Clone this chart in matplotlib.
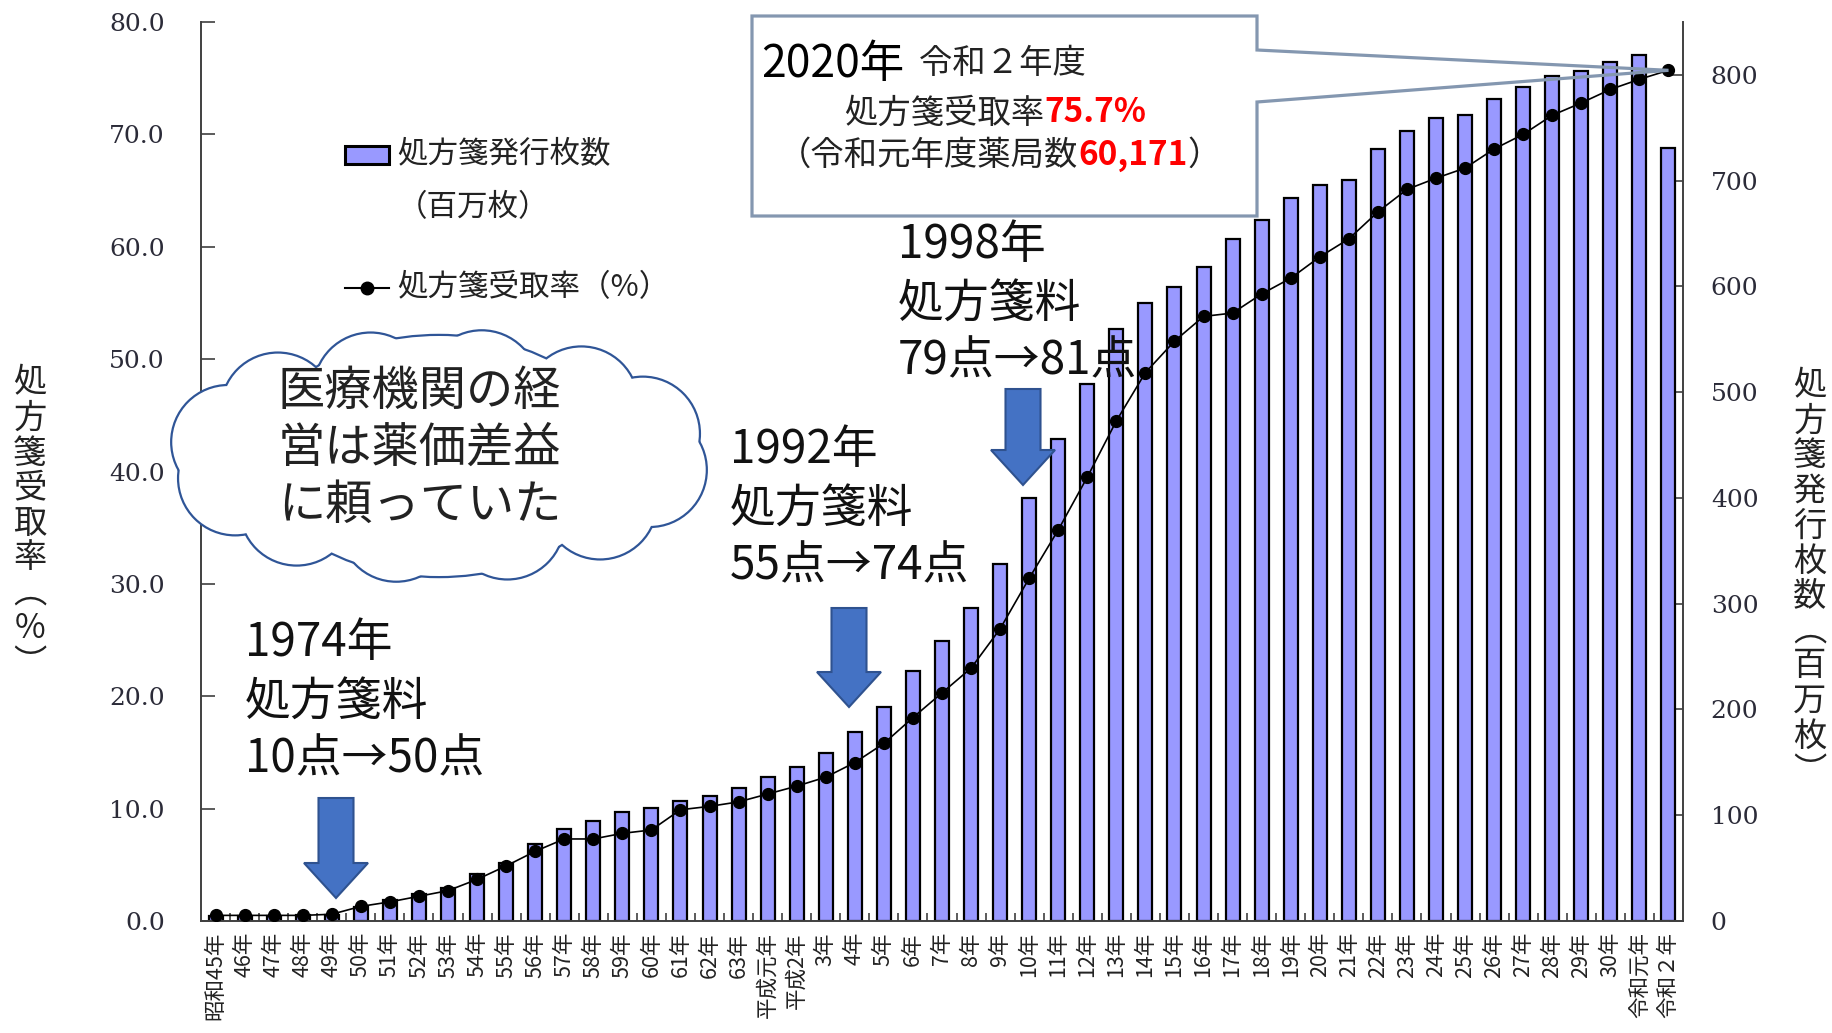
import matplotlib
matplotlib.use('Agg')
import matplotlib.pyplot as plt
import matplotlib.patches as mpatches
import matplotlib.transforms as mtransforms
from matplotlib.lines import Line2D
import numpy as np

plt.rcParams['font.family'] = ['Noto Sans CJK JP', 'DejaVu Sans']

# 年度ラベル (昭和45年 = 1970 ... 令和2年 = 2020)
years = ['昭和45年'] + ['%d年' % y for y in range(46, 64)] \
    + ['平成元年', '平成2年'] + ['%d年' % y for y in range(3, 31)] \
    + ['令和元年', '令和２年']

# 処方箋受取率 (%)
rate = [0.5, 0.5, 0.5, 0.5, 0.6, 1.3, 1.7, 2.2, 2.7, 3.7,
        4.9, 6.2, 7.3, 7.3, 7.8, 8.1, 9.9, 10.2, 10.6, 11.3,
        12.0, 12.8, 14.1, 15.8, 18.1, 20.3, 22.5, 26.0, 30.5, 34.8,
        39.5, 44.5, 48.8, 51.6, 53.8, 54.1, 55.8, 57.2, 59.1, 60.7,
        63.1, 65.1, 66.1, 67.0, 68.7, 70.0, 71.7, 72.8, 74.0, 74.9,
        75.7]

# 処方箋発行枚数 (百万枚)
sheets = [5, 5, 5, 6, 6, 13, 20, 26, 31, 44,
          55, 73, 87, 95, 103, 107, 113, 118, 126, 136,
          146, 159, 179, 202, 236, 265, 296, 338, 400, 456,
          508, 560, 584, 599, 618, 645, 663, 684, 696, 701,
          730, 747, 759, 762, 777, 789, 799, 804, 812, 819,
          731]

left_ticks = np.arange(0, 81, 10)
right_ticks = np.arange(0, 801, 100)

W, H = 1833, 1033
fig = plt.figure(figsize=(W / 100, H / 100), dpi=100)
# pixel coords measured from the top-left corner
px = mtransforms.Affine2D().scale(1 / 100, -1 / 100).translate(0, H / 100) + fig.dpi_scale_trans

ax = fig.add_axes([201 / W, 1 - 921 / H, (1683 - 201) / W, (921 - 22) / H])
ax2 = ax.twinx()

x = np.arange(len(years))
ax2.bar(x, sheets, width=0.48, color='#9999FF', edgecolor='black', linewidth=1.6, zorder=2)
ax.plot(x, rate, color='black', lw=1.2, marker='o', ms=8.5, zorder=3)
ax.set_zorder(ax2.get_zorder() + 1)
ax.patch.set_visible(False)

ax.set_xlim(-0.5, len(years) - 0.5)
ax.set_ylim(0, 80)
ax2.set_ylim(0, 850)

axis_col = '#404040'
tick_col = '#2b2b38'
ax.set_yticks(left_ticks)
ax.set_yticklabels(['%.1f' % v for v in left_ticks], fontfamily='DejaVu Serif', fontsize=18, color=tick_col)
ax2.set_yticks(right_ticks)
ax2.set_yticklabels(['%d' % v for v in right_ticks], fontfamily='DejaVu Serif', fontsize=18, color=tick_col)
ax.tick_params(axis='y', direction='in', length=10, width=1.2, color=axis_col, pad=26)
ax2.tick_params(axis='y', direction='in', length=10, width=1.2, color=axis_col, pad=20)

ax.set_xticks(x)
ax.set_xticklabels(years, rotation=90, fontsize=15.5, color='#222222')
ax.tick_params(axis='x', which='major', length=0, pad=8)
ax.set_xticks(np.arange(0.5, len(years) - 1, 1), minor=True)
ax.tick_params(axis='x', which='minor', direction='in', length=6, width=1.2, color=axis_col)

for s in ['top', 'right']:
    ax.spines[s].set_visible(False)
for s in ['top', 'left', 'bottom']:
    ax2.spines[s].set_visible(False)
for a, s in [(ax, 'left'), (ax, 'bottom'), (ax2, 'right')]:
    a.spines[s].set_color(axis_col)
    a.spines[s].set_linewidth(1.4)


def ptext(x0, y0, s, size, **kw):
    return fig.text(x0, y0, s, transform=px, fontsize=size, va='center', ha='left', zorder=8, **kw)


# vertical axis titles (one character per row)
def vtitle(xc, y0, chars, step=35):
    for i, ch in enumerate(chars):
        fig.text(xc, y0 + i * step, ch, transform=px, fontsize=24, ha='center', va='center', color='#222222')


vtitle(30, 383, list('処方箋受取率') + ['︵', '%', '︶'])
vtitle(1810, 386, list('処方箋発行枚数') + ['︵', '百', '万', '枚', '︶'])

# legend
fig.add_artist(mpatches.Rectangle((345, 146), 44, 18, transform=px, facecolor='#9999FF',
                                  edgecolor='black', lw=2.2, zorder=7))
fig.add_artist(Line2D([345, 389], [288, 288], transform=px, color='black', lw=1.5, zorder=7))
fig.add_artist(Line2D([367], [288], transform=px, color='black', marker='o', ms=9, zorder=7))
ptext(397, 155, '処方箋発行枚数', 22, color='#222222')
ptext(397, 208, '（百万枚）', 22, color='#222222')
ptext(397, 288, '処方箋受取率（%）', 22, color='#222222')

# cloud
cx, cy = 439, 456
bumps = []
for k in range(12):
    a = 2 * np.pi * k / 12 + 0.2
    bumps.append(((cx + 215 * np.cos(a), cy + 70 * np.sin(a)), 56))
bumps.append(((cx, cy), 120))
for (c, r) in bumps:
    fig.add_artist(mpatches.Ellipse(c, 2 * r * (1.5 if r > 100 else 1), 2 * r, transform=px,
                                    facecolor='white', edgecolor='#2F5597', lw=3.2, zorder=4))
for (c, r) in bumps:
    fig.add_artist(mpatches.Ellipse(c, 2 * r * (1.5 if r > 100 else 1), 2 * r, transform=px,
                                    facecolor='white', edgecolor='none', zorder=4.1))
for i, line in enumerate(['医療機関の経', '営は薬価差益', 'に頼っていた']):
    ptext(278, 392 + i * 57, line, 34, color='#222222')

# blue block arrows
def down_arrow(xc, top, tip, shaft=35, head=64, head_len=35):
    base = tip - head_len
    pts = [(xc - shaft / 2, top), (xc + shaft / 2, top), (xc + shaft / 2, base), (xc + head / 2, base),
           (xc, tip), (xc - head / 2, base), (xc - shaft / 2, base)]
    fig.add_artist(mpatches.Polygon(pts, closed=True, transform=px, facecolor='#4472C4',
                                    edgecolor='#2F528F', lw=1.5, zorder=6))


down_arrow(336, 798, 898)
down_arrow(849, 608, 707)
down_arrow(1023, 389, 485)

notes = [(245, 643, ['1974年', '処方箋料', '10点→50点']),
         (730, 450, ['1992年', '処方箋料', '55点→74点']),
         (898, 245, ['1998年', '処方箋料', '79点→81点'])]
for nx, ny, lines in notes:
    for i, line in enumerate(lines):
        ptext(nx, ny + i * 58, line, 33, color='#111111')

# callout box pointing at the last point
fig.canvas.draw()
tx, ty = ax.transData.transform((x[-1], rate[-1]))
tip = (tx * 100 / fig.dpi, H - ty * 100 / fig.dpi)
fig.add_artist(mpatches.Rectangle((752, 16), 505, 200, transform=px, facecolor='white',
                                  edgecolor='none', zorder=7))
outline = [(752, 16), (1257, 16), (1257, 50), tip, (1257, 102), (1257, 216), (752, 216)]
fig.add_artist(mpatches.Polygon(outline, closed=True, transform=px, facecolor='none',
                                edgecolor='#8497B0', lw=2.3, zorder=7.5))

renderer = fig.canvas.get_renderer()


def mixed(x0, y0, parts):
    for s, size, color, weight in parts:
        t = ptext(x0, y0, s, size, color=color, fontweight=weight)
        x0 += t.get_window_extent(renderer=renderer).width * 100 / fig.dpi


mixed(761, 64, [('2020年', 32, 'black', 'normal'), ('  令和２年度', 24, '#222222', 'normal')])
mixed(844, 113, [('処方箋受取率', 24, '#222222', 'normal'), ('75.7%', 24, '#FF0000', 'bold')])
mixed(778, 155, [('（令和元年度薬局数', 24, '#222222', 'normal'), ('60,171', 24, '#FF0000', 'bold'),
                 ('）', 24, '#222222', 'normal')])

fig.savefig('out.png', dpi=100)
